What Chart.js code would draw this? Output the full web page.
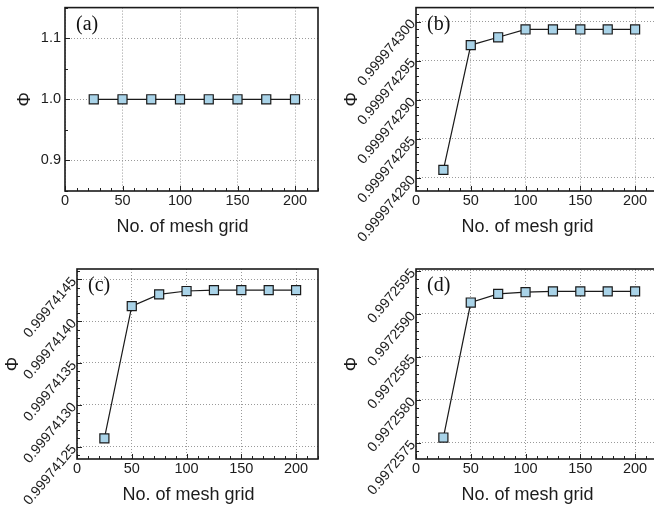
<!DOCTYPE html>
<html>
<head>
<meta charset="utf-8">
<script src="https://cdn.jsdelivr.net/npm/chart.js@4.4.0/dist/chart.umd.min.js"></script>
<style>
html, body { margin: 0; padding: 0; background: #fff; overflow: hidden; width: 654px; height: 521px; }
canvas { position: absolute; }
</style>
</head>
<body>
<canvas id="chartA" width="330" height="250" style="left:0;top:0"></canvas>
<canvas id="chartB" width="340" height="250" style="left:330px;top:0"></canvas>
<canvas id="chartC" width="330" height="271" style="left:0;top:250px"></canvas>
<canvas id="chartD" width="340" height="271" style="left:330px;top:250px"></canvas>
<script>
// mesh sizes on the x axis
const meshGrid = [25, 50, 75, 100, 125, 150, 175, 200];
const xTickLabels = ['0', '50', '100', '150', '200'];

// (a)
const phiA = [1.0, 1.0, 1.0, 1.0, 1.0, 1.0, 1.0, 1.0];
const yTickLabelsA = ['0.9', '1.0', '1.1'];
const yMinA = 0.85, yMaxA = 1.15;

// (b)
const phiB = [0.999974281, 0.999974297, 0.999974298, 0.999974299, 0.999974299, 0.999974299, 0.999974299, 0.999974299];
const yTickLabelsB = ['0.999974280', '0.999974285', '0.999974290', '0.999974295', '0.999974300'];
const yMinB = 0.9999742783, yMaxB = 0.9999743018;

// (c)
const phiC = [0.99974126, 0.999741418, 0.999741432, 0.999741436, 0.999741437, 0.999741437, 0.999741437, 0.999741437];
const yTickLabelsC = ['0.99974125', '0.99974130', '0.99974135', '0.99974140', '0.99974145'];
const yMinC = 0.9997412353, yMaxC = 0.9997414623;

// (d)
const phiD = [0.99725756, 0.99725913, 0.99725923, 0.99725925, 0.99725926, 0.99725926, 0.99725926, 0.99725926];
const yTickLabelsD = ['0.9972575', '0.9972580', '0.9972585', '0.9972590', '0.9972595'];
const yMinD = 0.99725731, yMaxD = 0.99725952;

Chart.defaults.font.family = "'Liberation Sans', Arial, sans-serif";
Chart.defaults.color = '#1c1c1c';

// frame, inward tick marks, panel letter and x title
const panelDecor = {
    id: 'panelDecor',
    afterDraw(chart, args, opts) {
        const ctx = chart.ctx;
        const a = chart.chartArea;
        const xs = chart.scales.x, ys = chart.scales.y;
        ctx.save();
        ctx.strokeStyle = '#222';
        ctx.lineWidth = 1;
        ctx.beginPath();
        for (let v = xs.min; v <= xs.max + 1e-9; v += opts.xMinor) {
            const major = xs.ticks.some(t => Math.abs(t.value - v) < 1e-6);
            const px = Math.round(xs.getPixelForValue(v)) + 0.5;
            ctx.moveTo(px, a.bottom);
            ctx.lineTo(px, a.bottom - (major ? 5 : 3));
        }
        const t0 = ys.ticks[0].value;
        const n0 = Math.ceil((ys.min - t0) / opts.yMinor - 1e-6);
        const n1 = Math.floor((ys.max - t0) / opts.yMinor + 1e-6);
        for (let k = n0; k <= n1; k++) {
            const py = Math.round(ys.getPixelForValue(t0 + k * opts.yMinor)) + 0.5;
            const major = ((k % opts.yPerMajor) + opts.yPerMajor) % opts.yPerMajor === 0;
            ctx.moveTo(a.left, py);
            ctx.lineTo(a.left + (major ? 5 : 3), py);
        }
        ctx.stroke();

        ctx.lineWidth = 1.6;
        ctx.strokeStyle = '#1a1a1a';
        ctx.strokeRect(a.left, a.top, a.right - a.left, a.bottom - a.top);

        ctx.fillStyle = '#111';
        ctx.font = "20px 'Liberation Serif', 'Times New Roman', serif";
        ctx.textBaseline = 'alphabetic';
        ctx.fillText(opts.letter, a.left + 11, a.top + 22);

        ctx.fillStyle = '#1c1c1c';
        ctx.font = "18px 'Liberation Sans', Arial, sans-serif";
        ctx.textAlign = 'center';
        ctx.textBaseline = 'middle';
        ctx.fillText('No. of mesh grid', (a.left + a.right) / 2 - 9, a.bottom + 36);
        ctx.restore();
    }
};

function makePanel(canvasId, phi, yLabels, yMin, yMax, cfg) {
    const yVals = yLabels.map(Number);
    return new Chart(document.getElementById(canvasId), {
        type: 'line',
        data: {
            datasets: [{
                data: phi.map((v, i) => ({ x: meshGrid[i], y: v })),
                borderColor: '#1a1a1a',
                borderWidth: 1.2,
                pointStyle: 'rect',
                pointRadius: 6.4,
                pointHoverRadius: 6.4,
                pointBackgroundColor: '#a9d3e8',
                pointBorderColor: '#1a1a1a',
                pointBorderWidth: 1.2,
                tension: 0,
                clip: false
            }]
        },
        options: {
            responsive: false,
            animation: false,
            devicePixelRatio: 1,
            layout: { padding: cfg.padding },
            plugins: {
                legend: { display: false },
                tooltip: { enabled: false },
                panelDecor: { letter: cfg.letter, xMinor: 10, yMinor: cfg.yMinor, yPerMajor: cfg.yPerMajor }
            },
            scales: {
                x: {
                    type: 'linear',
                    min: 0,
                    max: 220,
                    afterBuildTicks: s => { s.ticks = xTickLabels.map(l => ({ value: Number(l) })); },
                    afterFit: s => { s.height = cfg.xHeight; s.paddingLeft = 0; s.paddingRight = 0; },
                    grid: { color: '#9a9a9a', lineWidth: 1, drawTicks: false },
                    border: { display: false, dash: [1, 2] },
                    ticks: {
                        padding: 1,
                        font: { size: 14.5 },
                        maxRotation: 0,
                        autoSkip: false,
                        callback: (v, i) => xTickLabels[i]
                    }
                },
                y: {
                    type: 'linear',
                    min: yMin,
                    max: yMax,
                    afterBuildTicks: s => { s.ticks = yVals.map(v => ({ value: v })); },
                    afterFit: s => { s.width = cfg.yWidth; s.paddingTop = 0; s.paddingBottom = 0; },
                    grid: { color: '#9a9a9a', lineWidth: 1, drawTicks: false },
                    border: { display: false, dash: [1, 2] },
                    ticks: {
                        padding: cfg.labelPad,
                        font: { size: cfg.rot ? 14 : 14.5 },
                        minRotation: cfg.rot,
                        maxRotation: cfg.rot,
                        autoSkip: false,
                        callback: (v, i) => yLabels[i]
                    },
                    title: {
                        display: true,
                        text: 'Φ',
                        font: { size: 18 },
                        padding: { top: cfg.titlePad, bottom: 0 }
                    }
                }
            }
        },
        plugins: [panelDecor]
    });
}

makePanel('chartA', phiA, yTickLabelsA, yMinA, yMaxA, {
    letter: '(a)', padding: { top: 1, right: 12, bottom: 0, left: 0 },
    xHeight: 59, yWidth: 65, labelPad: 4, rot: 0, titlePad: 14, yMinor: 0.05, yPerMajor: 2
});
makePanel('chartB', phiB, yTickLabelsB, yMinB, yMaxB, {
    letter: '(b)', padding: { top: 1, right: 13, bottom: 0, left: 0 },
    xHeight: 59, yWidth: 86, labelPad: 3, rot: 50, titlePad: 11, yMinor: 1e-9, yPerMajor: 5
});
makePanel('chartC', phiC, yTickLabelsC, yMinC, yMaxC, {
    letter: '(c)', padding: { top: 19, right: 12, bottom: 0, left: 0 },
    xHeight: 62, yWidth: 77, labelPad: 3, rot: 50, titlePad: 2, yMinor: 1e-8, yPerMajor: 5
});
makePanel('chartD', phiD, yTickLabelsD, yMinD, yMaxD, {
    letter: '(d)', padding: { top: 19, right: 13, bottom: 0, left: 0 },
    xHeight: 62, yWidth: 86, labelPad: 3, rot: 50, titlePad: 11, yMinor: 1e-7, yPerMajor: 5
});
</script>
</body>
</html>
